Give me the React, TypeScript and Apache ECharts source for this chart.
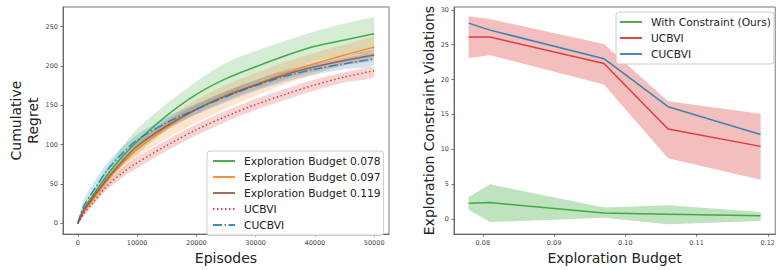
import React, { useEffect, useRef } from "react";
import * as echarts from "echarts";

// ---------- Left panel data ----------
const episodes = [0, 1000, 2500, 5000, 7500, 10000, 15000, 20000, 25000, 30000, 35000, 40000, 45000, 50000];

const budget078 = [0, 18, 35, 62, 85, 104, 137, 164, 184, 199, 213, 225, 233, 241];
const budget078Upper = [2, 22, 41, 71, 97, 120, 152, 180, 204, 219, 232, 244, 254, 262];
const budget078Lower = [-1, 14, 30, 54, 73, 88, 119, 144, 163, 180, 194, 206, 214, 220];

const budget097 = [0, 15, 30, 55, 76, 94, 122, 145, 163, 177, 191, 203, 214, 224];
const budget097Upper = [1, 18, 34, 60, 82, 101, 132, 157, 176, 191, 205, 217, 227, 237];
const budget097Lower = [-1, 12, 25, 48, 67, 84, 108, 128, 146, 162, 177, 190, 201, 212];

const budget119 = [0, 16, 32, 57, 79, 98, 124, 145, 162, 176, 189, 199, 207, 214];
const budget119Upper = [1, 19, 36, 62, 84, 103, 130, 151, 168, 182, 195, 205, 213, 220];
const budget119Lower = [-1, 13, 28, 52, 74, 93, 118, 139, 156, 170, 183, 193, 201, 208];

const ucbviRegret = [0, 12, 26, 48, 64, 77, 99, 119, 136, 151, 164, 176, 186, 194];
const ucbviRegretUpper = [1, 15, 30, 53, 70, 84, 106, 126, 143, 158, 171, 183, 192, 199];
const ucbviRegretLower = [-1, 9, 22, 43, 58, 70, 92, 112, 129, 144, 157, 169, 179, 186];

const cucbviRegret = [0, 22, 40, 68, 89, 106, 128, 145, 161, 175, 187, 196, 203, 209];
const cucbviRegretUpper = [2, 30, 50, 77, 97, 113, 135, 152, 168, 182, 194, 203, 210, 217];
const cucbviRegretLower = [-1, 15, 31, 59, 81, 99, 121, 138, 154, 168, 180, 189, 196, 201];

const leftXTicks = [0, 10000, 20000, 30000, 40000, 50000];
const leftYTicks = [0, 50, 100, 150, 200, 250];

// ---------- Right panel data ----------
const budgets = [0.078, 0.081, 0.097, 0.106, 0.119];

const oursViol = [2.24, 2.33, 0.84, 0.65, 0.42];
const oursViolUpper = [3.1, 4.95, 1.63, 1.96, 0.98];
const oursViolLower = [1.3, -0.47, 0.14, -0.79, -0.33];

const ucbviViol = [26.1, 26.1, 22.3, 12.9, 10.4];
const ucbviViolUpper = [29.1, 28.7, 25.1, 16.9, 15.1];
const ucbviViolLower = [23.1, 23.5, 19.3, 8.7, 5.6];

const cucbviViol = [28.1, 27.1, 23.0, 16.1, 12.1];

const rightXTicks = [0.08, 0.09, 0.1, 0.11, 0.12];
const rightYTicks = [0, 5, 10, 15, 20, 25, 30];

// ---------- Styling ----------
const GREEN = "#2ca02c";
const ORANGE = "#ff7f0e";
const BROWN = "#8c564b";
const RED = "#d62728";
const BLUE = "#1f77b4";
const FONT = "DejaVu Sans";
const SPINE = "#555";

const pairs = (xs: number[], ys: number[]) => xs.map((x, i) => [x, ys[i]]);

function band(xs: number[], lower: number[], upper: number[], color: string, opacity: number, axisIndex: number, smooth: number) {
  return {
    type: "custom",
    xAxisIndex: axisIndex,
    yAxisIndex: axisIndex,
    data: pairs(xs, upper),
    encode: { x: 0, y: 1 },
    silent: true,
    clip: true,
    z: 1,
    renderItem: (params: any, api: any) => {
      if (params.dataIndex !== 0) return null;
      const top = xs.map((x, i) => api.coord([x, upper[i]]));
      const bottom = xs.map((x, i) => api.coord([x, lower[i]])).reverse();
      const pts = top.concat(bottom);
      const minX = Math.min(...pts.map((p: number[]) => p[0]));
      const maxX = Math.max(...pts.map((p: number[]) => p[0]));
      const minY = Math.min(...pts.map((p: number[]) => p[1]));
      const maxY = Math.max(...pts.map((p: number[]) => p[1]));
      return {
        type: "polygon",
        shape: { points: pts, smooth, smoothConstraint: [[minX, minY], [maxX, maxY]] },
        style: { fill: color, opacity, stroke: "none" },
      };
    },
  };
}

function mainLine(name: string, xs: number[], ys: number[], color: string, axisIndex: number, dash: any, smooth: number | boolean) {
  return {
    name,
    type: "line",
    xAxisIndex: axisIndex,
    yAxisIndex: axisIndex,
    data: pairs(xs, ys),
    symbol: "none",
    smooth,
    lineStyle: { color, width: 1.5, type: dash, opacity: 0.85 },
    itemStyle: { color },
    z: 3,
  };
}

const tickLabel = { fontSize: 6.5, color: "#444", fontFamily: FONT };
const axisNameStyle = { fontSize: 14, color: "#222", fontFamily: FONT };
const axisLine = { show: true, onZero: false, lineStyle: { color: SPINE, width: 0.8 } };
const tickStyle = { color: SPINE, width: 0.8 };
const legendBase = {
  orient: "vertical",
  backgroundColor: "rgba(255,255,255,0.85)",
  borderColor: "#ccc",
  borderWidth: 1,
  borderRadius: 3,
  itemWidth: 22,
  itemHeight: 10,
  itemGap: 3,
  itemStyle: { opacity: 0 },
  textStyle: { fontSize: 10.7, lineHeight: 13, color: "#222", fontFamily: FONT, padding: [0, 0, 0, 4] },
  selectedMode: false,
};

export default function App() {
  const ref = useRef<HTMLDivElement>(null);
  useEffect(() => {
    if (!ref.current) return;
    const chart = echarts.init(ref.current, undefined, { renderer: "svg" });
    const option: any = {
      animation: false,
      backgroundColor: "#fff",
      grid: [
        { left: 63, top: 7, width: 326, height: 233, show: true, borderColor: SPINE, borderWidth: 0.8, backgroundColor: "transparent" },
        { left: 454, top: 7, width: 327, height: 233, show: true, borderColor: SPINE, borderWidth: 0.8, backgroundColor: "transparent" },
      ],
      xAxis: [
        {
          type: "value",
          gridIndex: 0,
          min: -2500,
          max: 52500,
          splitLine: { show: false },
          axisLine,
          axisTick: { show: true, length: 2.5, lineStyle: tickStyle, customValues: leftXTicks },
          axisLabel: { ...tickLabel, margin: 5, customValues: leftXTicks, formatter: (v: number) => String(v) },
          name: "Episodes",
          nameLocation: "middle",
          nameGap: 14,
          nameTextStyle: { ...axisNameStyle, verticalAlign: "top" },
        },
        {
          type: "value",
          gridIndex: 1,
          min: 0.07595,
          max: 0.12105,
          splitLine: { show: false },
          axisLine,
          axisTick: { show: true, length: 2.5, lineStyle: tickStyle, customValues: rightXTicks },
          axisLabel: { ...tickLabel, margin: 5, customValues: rightXTicks, formatter: (v: number) => v.toFixed(2) },
          name: "Exploration Budget",
          nameLocation: "middle",
          nameGap: 14,
          nameTextStyle: { ...axisNameStyle, verticalAlign: "top" },
        },
      ],
      yAxis: [
        {
          type: "value",
          gridIndex: 0,
          min: -13.6,
          max: 275,
          splitLine: { show: false },
          axisLine,
          axisTick: { show: true, length: 2.5, lineStyle: tickStyle, customValues: leftYTicks },
          axisLabel: { ...tickLabel, margin: 5, customValues: leftYTicks },
          name: "Cumulative\nRegret",
          nameLocation: "middle",
          nameGap: 20,
          nameRotate: 90,
          nameTextStyle: { ...axisNameStyle, lineHeight: 17 },
        },
        {
          type: "value",
          gridIndex: 1,
          min: -2.2,
          max: 30.42,
          splitLine: { show: false },
          axisLine,
          axisTick: { show: true, length: 2.5, lineStyle: tickStyle, customValues: rightYTicks },
          axisLabel: { ...tickLabel, margin: 5, customValues: rightYTicks },
          name: "Exploration Constraint Violations",
          nameLocation: "middle",
          nameGap: 18,
          nameRotate: 90,
          nameTextStyle: { ...axisNameStyle },
        },
      ],
      legend: [
        {
          ...legendBase,
          left: 207,
          top: 151,
          padding: [3.5, 3, 4, 5],
          data: ["Exploration Budget 0.078", "Exploration Budget 0.097", "Exploration Budget 0.119", "UCBVI", "CUCBVI"],
        },
        {
          ...legendBase,
          left: 616,
          top: 12,
          padding: [3.5, 3, 3.5, 3],
          data: ["With Constraint (Ours)", "UCBVI ", "CUCBVI "],
        },
      ],
      series: [
        band(episodes, budget078Lower, budget078Upper, GREEN, 0.2, 0, 0.3),
        mainLine("Exploration Budget 0.078", episodes, budget078, GREEN, 0, "solid", 0.3),
        band(episodes, budget097Lower, budget097Upper, ORANGE, 0.2, 0, 0.3),
        mainLine("Exploration Budget 0.097", episodes, budget097, ORANGE, 0, "solid", 0.3),
        band(episodes, budget119Lower, budget119Upper, BROWN, 0.2, 0, 0.3),
        mainLine("Exploration Budget 0.119", episodes, budget119, BROWN, 0, "solid", 0.3),
        band(episodes, ucbviRegretLower, ucbviRegretUpper, RED, 0.2, 0, 0.3),
        mainLine("UCBVI", episodes, ucbviRegret, RED, 0, [1.5, 2.5], 0.3),
        band(episodes, cucbviRegretLower, cucbviRegretUpper, BLUE, 0.2, 0, 0.3),
        mainLine("CUCBVI", episodes, cucbviRegret, BLUE, 0, [9, 2.5, 1.5, 2.5], 0.3),

        band(budgets, oursViolLower, oursViolUpper, GREEN, 0.3, 1, 0),
        mainLine("With Constraint (Ours)", budgets, oursViol, GREEN, 1, "solid", false),
        band(budgets, ucbviViolLower, ucbviViolUpper, RED, 0.3, 1, 0),
        mainLine("UCBVI ", budgets, ucbviViol, RED, 1, "solid", false),
        mainLine("CUCBVI ", budgets, cucbviViol, BLUE, 1, "solid", false),
      ],
    };
    chart.setOption(option);
    return () => chart.dispose();
  }, []);
  return (
    <div
      ref={ref}
      style={{ position: "fixed", left: 0, top: 0, width: 778, height: 270, background: "#fff" }}
    />
  );
}
